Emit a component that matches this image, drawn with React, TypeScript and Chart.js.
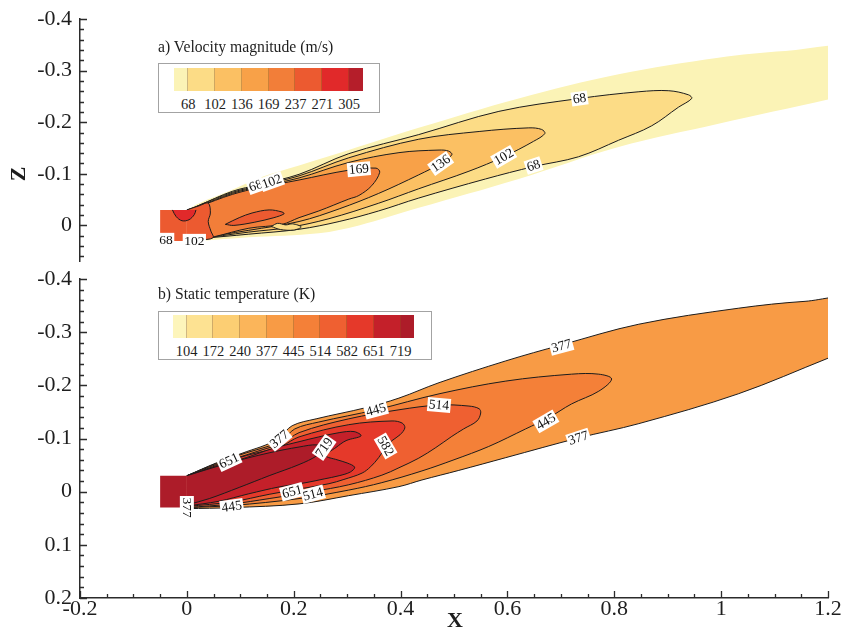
import React, { useEffect, useRef } from 'react';
import { Chart, registerables } from 'chart.js';

Chart.register(...registerables);

type P = [number, number];
type Lbl = { x: number; z: number; text: string; angle: number };

// ---------------- axes ----------------
const X_TICKS = [-0.2, 0, 0.2, 0.4, 0.6, 0.8, 1, 1.2];
const X_TICK_LABELS = ['-0.2', '0', '0.2', '0.4', '0.6', '0.8', '1', '1.2'];
const Z_TICKS_TOP = [-0.4, -0.3, -0.2, -0.1, 0];
const Z_TICK_LABELS_TOP = ['-0.4', '-0.3', '-0.2', '-0.1', '0'];
const Z_TICKS_BOTTOM = [-0.4, -0.3, -0.2, -0.1, 0, 0.1, 0.2];
const Z_TICK_LABELS_BOTTOM = ['-0.4', '-0.3', '-0.2', '-0.1', '0', '0.1', '0.2'];
const X_MINOR_STEP = 0.05;
const Z_MINOR_STEP = 0.02;

// ---------------- legends ----------------
const VEL_TITLE = 'a) Velocity magnitude (m/s)';
const VEL_LEVELS = ['68', '102', '136', '169', '237', '271', '305'];
const VEL_COLORS = ['#FBF3B6', '#FCDC86', '#FBC063', '#F8A148', '#F27E39', '#EC5A30', '#E1292A', '#B51E2A'];
const TMP_TITLE = 'b) Static temperature (K)';
const TMP_LEVELS = ['104', '172', '240', '377', '445', '514', '582', '651', '719'];
const TMP_COLORS = ['#FDF5BB', '#FDE292', '#FCCE73', '#FBB55A', '#F89B45', '#F48038', '#EF6031', '#E5392A', '#C4202A', '#AD1C29'];

// ---------------- velocity contours (x, z) ----------------
const NOZZLE: P[] = [[-0.05, -0.03], [0.0, -0.03], [0.0, 0.03], [-0.05, 0.03]];
const VEL_EDGE: P[] = [[0.0, -0.03], [0.023, -0.043], [0.085, -0.069], [0.135, -0.092], [0.21, -0.116], [0.303, -0.146], [0.434, -0.189], [0.621, -0.246], [0.808, -0.293], [0.995, -0.325], [1.12, -0.338], [1.25, -0.341], [1.25, -0.256], [1.2, -0.244], [0.995, -0.197], [0.808, -0.152], [0.621, -0.09], [0.434, -0.034], [0.322, 0.0], [0.247, 0.015], [0.116, 0.023], [0.023, 0.03], [0.0, 0.03]];
const VEL_68: P[] = [[0.004, -0.031], [0.023, -0.039], [0.085, -0.066], [0.135, -0.079], [0.21, -0.099], [0.303, -0.139], [0.434, -0.176], [0.584, -0.221], [0.735, -0.246], [0.846, -0.259], [0.902, -0.261], [0.939, -0.253], [0.945, -0.246], [0.92, -0.229], [0.87, -0.193], [0.808, -0.165], [0.733, -0.133], [0.649, -0.114], [0.559, -0.09], [0.434, -0.053], [0.359, -0.028], [0.285, -0.0075], [0.21, 0.0075], [0.116, 0.017], [0.023, 0.026], [0.004, 0.029]];
const VEL_102: P[] = [[0.008, -0.031], [0.023, -0.039], [0.085, -0.064], [0.135, -0.077], [0.21, -0.096], [0.303, -0.131], [0.434, -0.167], [0.547, -0.182], [0.64, -0.189], [0.664, -0.186], [0.67, -0.178], [0.649, -0.163], [0.593, -0.133], [0.528, -0.105], [0.434, -0.071], [0.359, -0.043], [0.266, -0.013], [0.191, 0.004], [0.116, 0.013], [0.017, 0.027], [0.008, 0.029]];
const VEL_136: P[] = [[0.012, -0.031], [0.023, -0.037], [0.085, -0.062], [0.135, -0.075], [0.21, -0.092], [0.303, -0.122], [0.397, -0.141], [0.472, -0.146], [0.49, -0.144], [0.496, -0.137], [0.475, -0.12], [0.434, -0.098], [0.359, -0.062], [0.285, -0.032], [0.21, -0.0075], [0.116, 0.0095], [0.019, 0.026], [0.012, 0.029]];
const VEL_169: P[] = [[0.0, -0.03], [0.023, -0.037], [0.085, -0.06], [0.135, -0.073], [0.21, -0.088], [0.303, -0.107], [0.354, -0.111], [0.361, -0.103], [0.346, -0.077], [0.322, -0.058], [0.303, -0.051], [0.247, -0.028], [0.21, -0.015], [0.178, -0.002], [0.116, 0.0055], [0.051, 0.022], [0.023, 0.027], [0.0, 0.03]];
const VEL_BLOB: P[] = [[0.158, 0.002], [0.17, -0.004], [0.185, -0.001], [0.198, -0.003], [0.214, 0.003], [0.2, 0.009], [0.175, 0.008], [0.158, 0.002]];
const VEL_237: P[] = [[0.0, -0.03], [0.023, -0.038], [0.04, -0.043], [0.044, -0.024], [0.04, -0.0075], [0.045, 0.011], [0.049, 0.024], [0.023, 0.028], [0.0, 0.028]];
const VEL_CORE: P[] = [[0.072, -0.002], [0.098, -0.015], [0.122, -0.024], [0.154, -0.03], [0.178, -0.026], [0.182, -0.0225], [0.163, -0.015], [0.126, -0.006], [0.088, 0.0], [0.072, -0.002]];
const VEL_PEAK: P[] = [[-0.027, -0.03], [-0.02, -0.017], [-0.009, -0.009], [0.004, -0.011], [0.014, -0.021], [0.017, -0.03]];

const VEL_LABELS: Lbl[] = [
  { x: -0.039, z: 0.028, text: '68', angle: 0 },
  { x: 0.014, z: 0.03, text: '102', angle: 0 },
  { x: 0.129, z: -0.077, text: '68', angle: -20 },
  { x: 0.159, z: -0.085, text: '102', angle: -20 },
  { x: 0.322, z: -0.109, text: '169', angle: -5 },
  { x: 0.475, z: -0.12, text: '136', angle: -35 },
  { x: 0.593, z: -0.133, text: '102', angle: -30 },
  { x: 0.649, z: -0.116, text: '68', angle: -18 },
  { x: 0.735, z: -0.246, text: '68', angle: -8 },
];

// ---------------- temperature contours (x, z) ----------------
const TMP_377: P[] = [[0.0, -0.03], [0.055, -0.054], [0.111, -0.075], [0.148, -0.088], [0.173, -0.101], [0.197, -0.124], [0.242, -0.137], [0.335, -0.158], [0.397, -0.176], [0.472, -0.205], [0.597, -0.246], [0.701, -0.276], [0.846, -0.315], [1.032, -0.345], [1.157, -0.358], [1.25, -0.36], [1.25, -0.271], [1.2, -0.251], [1.032, -0.184], [0.846, -0.128], [0.733, -0.101], [0.597, -0.064], [0.509, -0.04], [0.44, -0.022], [0.397, -0.0095], [0.303, 0.0075], [0.21, 0.023], [0.085, 0.03], [0.0, 0.032]];
const TMP_445: P[] = [[0.0, -0.03], [0.055, -0.053], [0.111, -0.073], [0.148, -0.084], [0.178, -0.096], [0.202, -0.118], [0.247, -0.131], [0.354, -0.154], [0.472, -0.184], [0.597, -0.208], [0.72, -0.221], [0.771, -0.221], [0.795, -0.212], [0.771, -0.189], [0.72, -0.165], [0.677, -0.139], [0.634, -0.118], [0.565, -0.085], [0.5, -0.06], [0.44, -0.039], [0.365, -0.017], [0.303, -0.003], [0.21, 0.013], [0.085, 0.026], [0.0, 0.03]];
const TMP_514: P[] = [[0.0, -0.03], [0.055, -0.051], [0.111, -0.069], [0.148, -0.081], [0.178, -0.09], [0.21, -0.111], [0.303, -0.137], [0.397, -0.154], [0.472, -0.163], [0.528, -0.161], [0.547, -0.156], [0.55, -0.148], [0.543, -0.133], [0.518, -0.118], [0.496, -0.104], [0.466, -0.083], [0.434, -0.063], [0.397, -0.045], [0.365, -0.031], [0.303, -0.013], [0.234, 0.0], [0.154, 0.013], [0.085, 0.023], [0.0, 0.03]];
const TMP_582: P[] = [[0.0, -0.03], [0.055, -0.049], [0.111, -0.068], [0.148, -0.077], [0.178, -0.086], [0.21, -0.103], [0.303, -0.126], [0.384, -0.133], [0.403, -0.129], [0.408, -0.12], [0.399, -0.107], [0.384, -0.096], [0.372, -0.083], [0.359, -0.064], [0.344, -0.047], [0.328, -0.035], [0.294, -0.023], [0.266, -0.015], [0.21, -0.005], [0.154, 0.005], [0.085, 0.019], [0.0, 0.028]];
const TMP_651: P[] = [[0.0, -0.03], [0.055, -0.047], [0.111, -0.064], [0.16, -0.081], [0.21, -0.094], [0.247, -0.103], [0.285, -0.111], [0.313, -0.113], [0.326, -0.105], [0.298, -0.096], [0.279, -0.083], [0.26, -0.068], [0.281, -0.06], [0.3, -0.054], [0.314, -0.046], [0.306, -0.037], [0.285, -0.03], [0.257, -0.024], [0.223, -0.017], [0.173, -0.009], [0.116, 0.004], [0.06, 0.018], [0.0, 0.027]];
const TMP_719: P[] = [[0.0, -0.03], [0.079, -0.054], [0.154, -0.073], [0.21, -0.084], [0.244, -0.088], [0.255, -0.081], [0.244, -0.068], [0.21, -0.051], [0.154, -0.03], [0.098, -0.008], [0.042, 0.013], [0.0, 0.025]];

const TMP_LABELS: Lbl[] = [
  { x: 0.173, z: -0.099, text: '377', angle: -40 },
  { x: 0.079, z: -0.058, text: '651', angle: -25 },
  { x: 0.0, z: 0.03, text: '377', angle: 90 },
  { x: 0.084, z: 0.028, text: '445', angle: -8 },
  { x: 0.197, z: 0.0, text: '651', angle: -15 },
  { x: 0.236, z: 0.005, text: '514', angle: -15 },
  { x: 0.257, z: -0.083, text: '719', angle: -55 },
  { x: 0.372, z: -0.086, text: '582', angle: 60 },
  { x: 0.354, z: -0.154, text: '445', angle: -15 },
  { x: 0.472, z: -0.163, text: '514', angle: 5 },
  { x: 0.701, z: -0.274, text: '377', angle: -15 },
  { x: 0.672, z: -0.132, text: '445', angle: -30 },
  { x: 0.733, z: -0.101, text: '377', angle: -18 },
];

// ---------------- helpers ----------------
const SERIF = '"Liberation Serif", "Times New Roman", Times, serif';
const INK = '#1e1e1e';
const LINE = '#1c1c1c';

function region(points: P[], color: string, order: number, stroke = true, tension = 0.35) {
  return {
    data: points.map(([x, z]) => ({ x, y: z })),
    backgroundColor: color,
    borderColor: stroke ? LINE : 'rgba(0,0,0,0)',
    borderWidth: stroke ? 1 : 0.001,
    fill: 'shape',
    tension,
    pointRadius: 0,
    pointHoverRadius: 0,
    order,
  };
}

function steps(min: number, max: number, step: number) {
  const out: number[] = [];
  for (let k = 0; ; k++) {
    const v = min + k * step;
    if (v > max + 1e-9) break;
    out.push(Math.round(v * 10000) / 10000);
  }
  return out;
}

function decorPlugin(labels: Lbl[], zMajor: number[], showX: boolean) {
  return {
    id: 'decor',
    afterDatasetsDraw(chart: any) {
      const { ctx } = chart;
      const xs = chart.scales.x;
      const ys = chart.scales.y;
      ctx.save();
      ctx.font = `13.5px ${SERIF}`;
      ctx.textAlign = 'center';
      ctx.textBaseline = 'middle';
      for (const l of labels) {
        const px = xs.getPixelForValue(l.x);
        const py = ys.getPixelForValue(l.z);
        ctx.save();
        ctx.translate(px, py);
        ctx.rotate((l.angle * Math.PI) / 180);
        const w = ctx.measureText(l.text).width;
        ctx.fillStyle = '#ffffff';
        ctx.fillRect(-w / 2 - 1.5, -7, w + 3, 14);
        ctx.fillStyle = '#111';
        ctx.fillText(l.text, 0, 0.5);
        ctx.restore();
      }
      ctx.restore();
    },
    afterDraw(chart: any) {
      const { ctx, chartArea: a } = chart;
      const xs = chart.scales.x;
      const ys = chart.scales.y;
      ctx.save();
      ctx.strokeStyle = '#2b2b2b';
      ctx.lineWidth = 1.3;
      ctx.beginPath();
      const zMin = Math.min(ys.min, ys.max);
      const zMax = Math.max(ys.min, ys.max);
      for (const v of steps(zMin, zMax, Z_MINOR_STEP)) {
        const major = zMajor.some((m) => Math.abs(m - v) < 1e-6);
        const py = Math.round(ys.getPixelForValue(v)) + 0.5;
        ctx.moveTo(a.left, py);
        ctx.lineTo(a.left + (major ? 7 : 4), py);
      }
      if (showX) {
        for (const v of steps(xs.min, xs.max, X_MINOR_STEP)) {
          const major = X_TICKS.some((m) => Math.abs(m - v) < 1e-6);
          const px = Math.round(xs.getPixelForValue(v)) + 0.5;
          ctx.moveTo(px, a.bottom);
          ctx.lineTo(px, a.bottom - (major ? 7 : 4));
        }
      }
      ctx.stroke();
      ctx.restore();
    },
  };
}

const tickFont = { family: SERIF, size: 22, lineHeight: 1 };

function yScale(min: number, max: number, ticks: number[], labels: string[]) {
  return {
    type: 'linear',
    min,
    max,
    reverse: true,
    afterFit: (s: any) => {
      s.width = 80;
    },
    afterBuildTicks: (s: any) => {
      s.ticks = ticks.map((v) => ({ value: v }));
    },
    ticks: {
      callback: (_v: any, i: number) => labels[i],
      font: tickFont,
      color: INK,
      padding: 8,
      autoSkip: false,
    },
    grid: { display: false, drawTicks: false },
    border: { display: true, color: '#2b2b2b', width: 1.5 },
  };
}

function topConfig(): any {
  return {
    type: 'line',
    data: {
      datasets: [
        region(VEL_EDGE, VEL_COLORS[0], 100, false),
        region(VEL_68, VEL_COLORS[1], 90),
        region(VEL_102, VEL_COLORS[2], 80),
        region(VEL_136, VEL_COLORS[3], 70),
        region(VEL_169, VEL_COLORS[4], 60),
        region(VEL_BLOB, VEL_COLORS[1], 55),
        region(VEL_237, VEL_COLORS[5], 50),
        region(VEL_CORE, VEL_COLORS[5], 45),
        region(NOZZLE, VEL_COLORS[5], 40, false, 0),
        region(VEL_PEAK, VEL_COLORS[6], 30),
      ],
    },
    options: {
      animation: false,
      responsive: false,
      events: [],
      layout: { padding: { left: 0, right: 16, top: 15, bottom: 15 } },
      plugins: { legend: { display: false }, tooltip: { enabled: false } },
      scales: {
        x: { type: 'linear', min: -0.2, max: 1.2, display: false },
        y: yScale(-0.4, 0.069, Z_TICKS_TOP, Z_TICK_LABELS_TOP),
      },
    },
    plugins: [decorPlugin(VEL_LABELS, Z_TICKS_TOP, false)],
  };
}

function bottomConfig(): any {
  return {
    type: 'line',
    data: {
      datasets: [
        region(TMP_377, TMP_COLORS[4], 100),
        region(TMP_445, TMP_COLORS[5], 90),
        region(TMP_514, TMP_COLORS[6], 80),
        region(TMP_582, TMP_COLORS[7], 70),
        region(TMP_651, TMP_COLORS[8], 60),
        region(TMP_719, TMP_COLORS[9], 50),
        region(NOZZLE, TMP_COLORS[9], 40, false, 0),
      ],
    },
    options: {
      animation: false,
      responsive: false,
      events: [],
      layout: { padding: { left: 0, right: 16, top: 17, bottom: 0 } },
      plugins: { legend: { display: false }, tooltip: { enabled: false } },
      scales: {
        x: {
          type: 'linear',
          min: -0.2,
          max: 1.2,
          afterFit: (s: any) => {
            s.height = 30;
          },
          afterBuildTicks: (s: any) => {
            s.ticks = X_TICKS.map((v) => ({ value: v }));
          },
          ticks: {
            callback: (_v: any, i: number) => X_TICK_LABELS[i],
            font: tickFont,
            color: INK,
            padding: 0,
            maxRotation: 0,
            autoSkip: false,
          },
          grid: { display: false, drawTicks: false },
          border: { display: true, color: '#2b2b2b', width: 1.5 },
        },
        y: yScale(-0.4, 0.2, Z_TICKS_BOTTOM, Z_TICK_LABELS_BOTTOM),
      },
    },
    plugins: [decorPlugin(TMP_LABELS, Z_TICKS_BOTTOM, true)],
  };
}

function ColorLegend(props: {
  title: string;
  titleTop: number;
  boxLeft: number;
  boxTop: number;
  boxW: number;
  boxH: number;
  barLeft: number;
  barTop: number;
  barH: number;
  edgeW: number;
  cellW: number;
  labelTop: number;
  colors: string[];
  levels: string[];
}) {
  const { colors, levels, edgeW, cellW } = props;
  const widths = colors.map((_, i) => (i === 0 || i === colors.length - 1 ? edgeW : cellW));
  return (
    <>
      <div
        style={{
          position: 'absolute',
          left: props.boxLeft,
          top: props.titleTop,
          font: `15.7px ${SERIF}`,
          lineHeight: '18px',
          color: INK,
          whiteSpace: 'nowrap',
        }}
      >
        {props.title}
      </div>
      <div
        style={{
          position: 'absolute',
          left: props.boxLeft,
          top: props.boxTop,
          width: props.boxW,
          height: props.boxH,
          border: '1px solid #a3a3a3',
          boxSizing: 'border-box',
          background: '#fff',
        }}
      />
      <div style={{ position: 'absolute', left: props.barLeft, top: props.barTop, height: props.barH, display: 'flex' }}>
        {colors.map((c, i) => (
          <div
            key={i}
            style={{
              width: widths[i],
              height: props.barH,
              background: c,
              boxSizing: 'border-box',
              borderRight: i < colors.length - 1 ? '1px solid rgba(120,70,30,0.35)' : 'none',
            }}
          />
        ))}
      </div>
      {levels.map((t, i) => (
        <div
          key={t + i}
          style={{
            position: 'absolute',
            left: props.barLeft + edgeW + i * cellW - 20,
            top: props.labelTop,
            width: 40,
            textAlign: 'center',
            font: `14.5px ${SERIF}`,
            lineHeight: '16px',
            color: INK,
          }}
        >
          {t}
        </div>
      ))}
    </>
  );
}

export default function App() {
  const topRef = useRef<HTMLCanvasElement>(null);
  const botRef = useRef<HTMLCanvasElement>(null);

  useEffect(() => {
    const c1 = new Chart(topRef.current as HTMLCanvasElement, topConfig());
    const c2 = new Chart(botRef.current as HTMLCanvasElement, bottomConfig());
    return () => {
      c1.destroy();
      c2.destroy();
    };
  }, []);

  return (
    <div
      style={{
        position: 'absolute',
        left: 0,
        top: 0,
        width: 844,
        height: 628,
        background: '#fff',
        overflow: 'hidden',
      }}
    >
      <canvas ref={topRef} width={844} height={280} style={{ position: 'absolute', left: 0, top: 0, width: 844, height: 280 }} />
      <canvas ref={botRef} width={844} height={368} style={{ position: 'absolute', left: 0, top: 260, width: 844, height: 368 }} />

      <ColorLegend
        title={VEL_TITLE}
        titleTop={38}
        boxLeft={158}
        boxTop={63}
        boxW={222}
        boxH={50}
        barLeft={174}
        barTop={68}
        barH={23}
        edgeW={14.3}
        cellW={26.8}
        labelTop={96}
        colors={VEL_COLORS}
        levels={VEL_LEVELS}
      />
      <ColorLegend
        title={TMP_TITLE}
        titleTop={285}
        boxLeft={158}
        boxTop={311}
        boxW={274}
        boxH={49}
        barLeft={173}
        barTop={315}
        barH={23}
        edgeW={13.7}
        cellW={26.75}
        labelTop={343}
        colors={TMP_COLORS}
        levels={TMP_LEVELS}
      />

      <div
        style={{
          position: 'absolute',
          left: 5,
          top: 162,
          width: 24,
          height: 24,
          lineHeight: '24px',
          textAlign: 'center',
          font: `bold 22px ${SERIF}`,
          color: INK,
          transform: 'rotate(-90deg)',
        }}
      >
        Z
      </div>
      <div
        style={{
          position: 'absolute',
          left: 443,
          top: 607,
          width: 24,
          height: 24,
          lineHeight: '24px',
          textAlign: 'center',
          font: `bold 22px ${SERIF}`,
          color: INK,
        }}
      >
        X
      </div>
    </div>
  );
}
